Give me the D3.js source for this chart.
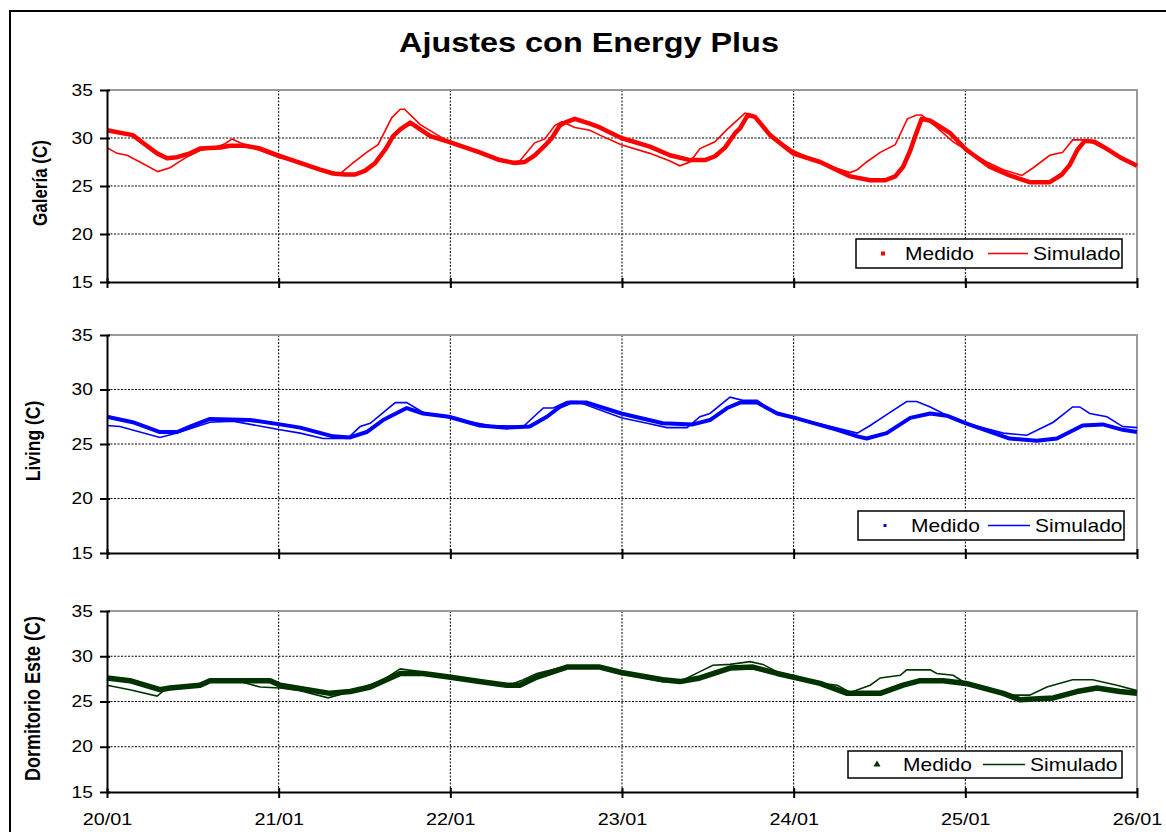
<!DOCTYPE html>
<html lang="es">
<head>
<meta charset="UTF-8">
<title>Ajustes con Energy Plus</title>
<script src="https://d3js.org/d3.v7.min.js"></script>
<style>
  html, body { margin: 0; padding: 0; background: #fff; overflow: hidden; }
  svg { display: block; font-family: Arial, "Liberation Sans", sans-serif; }
  .grid line { stroke: #000; stroke-width: 1; stroke-dasharray: 2, 1.5; }
  .frame { stroke: #999; stroke-width: 2; fill: none; }
  .axis path, .axis line { stroke: #000; stroke-width: 2; }
  .axis text { font-size: 16px; fill: #000; }
</style>
</head>
<body>
<svg id="chart" width="1166" height="832"></svg>
<script>
// --- data (hours from 20/01 00:00, temperature in C) ---
const dayLabels = ["20/01", "21/01", "22/01", "23/01", "24/01", "25/01", "26/01"];
const dayHours = [0, 24, 48, 72, 96, 120, 144];
const tempTicks = [15, 20, 25, 30, 35];
const gridTemps = [20, 25, 30];

const galeriaMedidoHora = [0, 3.6, 5.0, 7.0, 8.4, 9.8, 11.6, 13.0, 15.8, 17.2, 19.3, 21.4, 23.9, 27.0, 29.8, 31.6, 33.3, 34.7, 36.1, 37.5, 38.9, 40.0, 41.0, 42.4, 45.2, 47.8, 52.1, 54.9, 57.0, 58.4, 59.8, 61.2, 62.2, 63.3, 64.0, 65.4, 67.5, 68.9, 71.9, 75.9, 78.7, 81.5, 83.6, 85.0, 86.4, 87.8, 88.5, 89.6, 90.6, 92.7, 95.9, 99.7, 103.9, 106.7, 108.8, 110.2, 111.3, 112.3, 113.0, 113.9, 115.1, 117.9, 120.1, 123.4, 126.2, 129.0, 131.8, 133.5, 134.6, 135.7, 136.7, 138.1, 139.5, 141.6, 144.0];
const galeriaMedidoTemp = [30.8, 30.3, 29.5, 28.4, 27.9, 28.0, 28.4, 28.9, 29.0, 29.2, 29.2, 28.9, 28.2, 27.4, 26.7, 26.3, 26.2, 26.2, 26.6, 27.4, 28.8, 30.2, 30.9, 31.6, 30.2, 29.6, 28.5, 27.7, 27.4, 27.5, 28.2, 29.2, 30.0, 31.3, 31.6, 32.0, 31.5, 31.1, 30.0, 29.1, 28.2, 27.7, 27.7, 28.1, 29.0, 30.5, 31.0, 32.4, 32.2, 30.3, 28.4, 27.5, 26.0, 25.6, 25.6, 26.0, 27.0, 28.7, 30.2, 32.0, 31.8, 30.5, 28.8, 27.0, 26.1, 25.4, 25.4, 26.2, 27.2, 28.8, 29.7, 29.6, 29.0, 28.0, 27.1];

const galeriaSimHora = [0, 1.4, 2.8, 4.6, 7.1, 8.8, 10.9, 13.0, 15.1, 16.5, 17.5, 18.6, 21.4, 23.9, 27.0, 29.8, 32.6, 34.4, 36.3, 37.9, 39.8, 41.0, 41.6, 43.8, 47.8, 52.1, 56.3, 57.7, 59.8, 61.2, 62.6, 63.6, 65.4, 67.5, 68.9, 71.9, 75.9, 78.7, 80.1, 81.5, 82.9, 85.0, 86.7, 89.2, 90.2, 92.7, 95.9, 100.4, 103.9, 104.9, 106.2, 108.1, 110.2, 111.9, 113.2, 113.9, 116.0, 118.3, 120.7, 123.0, 125.3, 127.9, 129.5, 131.8, 133.6, 135.0, 137.0, 137.8, 144.0];
const galeriaSimTemp = [29.0, 28.4, 28.2, 27.5, 26.5, 26.9, 27.9, 28.7, 29.0, 29.4, 29.9, 29.5, 28.7, 28.0, 27.4, 26.7, 26.3, 27.4, 28.5, 29.3, 32.1, 33.0, 33.0, 31.4, 29.6, 28.5, 27.5, 27.6, 29.5, 29.9, 31.3, 31.7, 31.1, 30.8, 30.3, 29.3, 28.4, 27.6, 27.1, 27.5, 28.9, 29.6, 30.9, 32.6, 32.4, 30.3, 28.7, 27.2, 26.4, 26.7, 27.5, 28.5, 29.3, 32.0, 32.4, 32.4, 31.1, 29.6, 28.5, 27.5, 26.7, 26.1, 26.9, 28.2, 28.5, 29.8, 29.8, 29.5, 27.1];

const livingMedidoHora = [0, 3.6, 7.4, 9.8, 11.6, 14.4, 20.0, 24.2, 27.0, 31.6, 34.0, 36.3, 38.6, 41.9, 44.2, 47.8, 52.1, 55.9, 59.1, 61.5, 63.3, 64.7, 67.1, 71.9, 77.7, 81.9, 84.3, 86.7, 88.5, 90.9, 93.7, 96.2, 102.1, 104.9, 106.2, 109.0, 112.3, 115.1, 117.4, 120.1, 126.2, 130.0, 132.8, 136.4, 139.2, 142.0, 144.0];
const livingMedidoTemp = [27.5, 27.0, 26.1, 26.1, 26.6, 27.3, 27.2, 26.8, 26.5, 25.7, 25.6, 26.1, 27.2, 28.3, 27.8, 27.5, 26.7, 26.5, 26.6, 27.5, 28.4, 28.8, 28.8, 27.8, 26.9, 26.8, 27.2, 28.3, 28.8, 28.8, 27.8, 27.4, 26.3, 25.7, 25.5, 26.0, 27.4, 27.8, 27.6, 26.9, 25.5, 25.3, 25.5, 26.7, 26.8, 26.3, 26.1];

const livingSimHora = [0, 1.8, 7.4, 9.8, 14.4, 17.6, 24.2, 27.0, 30.2, 33.6, 35.4, 36.8, 40.3, 41.9, 44.2, 47.8, 53.5, 58.2, 61.0, 62.4, 64.3, 65.7, 71.9, 75.5, 78.3, 81.1, 82.9, 84.3, 87.1, 88.9, 90.9, 92.7, 96.2, 104.9, 106.7, 109.0, 111.8, 113.2, 115.1, 116.9, 120.1, 125.3, 128.6, 132.3, 135.0, 136.0, 137.4, 139.8, 142.0, 144.0];
const livingSimTemp = [26.7, 26.6, 25.6, 26.0, 27.0, 27.1, 26.3, 26.0, 25.5, 25.5, 26.6, 26.9, 28.8, 28.8, 27.9, 27.4, 26.7, 26.6, 28.3, 28.3, 28.9, 28.9, 27.4, 26.9, 26.5, 26.5, 27.5, 27.8, 29.3, 29.0, 29.0, 28.1, 27.4, 26.0, 26.7, 27.7, 28.9, 28.9, 28.4, 27.8, 26.9, 26.0, 25.8, 27.0, 28.4, 28.4, 27.8, 27.5, 26.6, 26.5];

const dormMedidoHora = [0, 3.2, 7.4, 8.8, 13.0, 14.4, 22.8, 24.2, 31.2, 34.0, 36.8, 41.0, 44.2, 47.8, 52.1, 55.9, 57.7, 60.1, 64.3, 68.9, 71.9, 77.7, 80.1, 82.9, 87.1, 90.3, 93.7, 95.9, 99.7, 103.5, 108.1, 111.3, 113.7, 116.9, 120.1, 125.3, 127.6, 132.3, 135.6, 138.4, 141.6, 144.0];
const dormMedidoTemp = [27.6, 27.3, 26.3, 26.5, 26.8, 27.3, 27.3, 26.8, 25.9, 26.1, 26.6, 28.1, 28.1, 27.7, 27.2, 26.8, 26.8, 27.7, 28.8, 28.8, 28.2, 27.4, 27.2, 27.6, 28.7, 28.8, 28.1, 27.7, 27.0, 25.9, 25.9, 26.8, 27.3, 27.3, 27.0, 25.9, 25.2, 25.4, 26.1, 26.5, 26.1, 25.9];

const dormSimHora = [0, 3.2, 7.0, 8.1, 14.4, 18.6, 21.4, 24.2, 27.0, 30.9, 33.3, 35.4, 38.2, 41.0, 43.8, 47.8, 52.1, 55.9, 58.2, 60.1, 63.7, 69.9, 71.9, 77.7, 80.1, 82.9, 84.7, 87.1, 89.9, 91.7, 94.1, 95.9, 99.7, 102.1, 103.9, 106.7, 108.1, 110.9, 111.8, 115.1, 116.0, 118.3, 120.1, 126.7, 129.0, 131.4, 135.0, 137.8, 141.2, 144.0];
const dormSimTemp = [26.8, 26.3, 25.6, 26.3, 27.2, 27.2, 26.6, 26.5, 26.2, 25.4, 25.9, 26.5, 27.2, 28.6, 28.3, 27.7, 27.2, 26.7, 27.4, 28.1, 28.8, 28.7, 28.1, 27.2, 27.2, 28.3, 29.0, 29.1, 29.4, 29.1, 28.1, 27.9, 27.0, 26.8, 26.0, 26.8, 27.6, 27.9, 28.5, 28.5, 28.1, 27.9, 27.0, 25.7, 25.7, 26.6, 27.4, 27.4, 26.8, 26.2];

// --- layout ---
const SX = 1.2; // horizontal text stretch of the original picture
const zip = (h, t) => h.map((d, i) => [d, t[i]]);

const panels = [
  { label: "Galería (C)", labelX: 47, labelSize: 17, top: 90, bottom: 282, color: "#FF0000",
    medido: zip(galeriaMedidoHora, galeriaMedidoTemp), sim: zip(galeriaSimHora, galeriaSimTemp),
    medidoWidth: 4.5, marker: "square", markerSize: 4,
    legend: { x: 856, y: 239, w: 266, h: 29, mx: 883, tx1: 905, lx1: 988, lx2: 1028, tx2: 1033 } },
  { label: "Living (C)", labelX: 40, labelSize: 17.5, top: 335, bottom: 553, color: "#0000FF",
    medido: zip(livingMedidoHora, livingMedidoTemp), sim: zip(livingSimHora, livingSimTemp),
    medidoWidth: 4, marker: "square", markerSize: 3,
    legend: { x: 858, y: 511, w: 266, h: 29, mx: 885, tx1: 911, lx1: 988, lx2: 1030, tx2: 1035 } },
  { label: "Dormitorio Este (C)", labelX: 40, labelSize: 18, top: 611, bottom: 792, color: "#003300",
    medido: zip(dormMedidoHora, dormMedidoTemp), sim: zip(dormSimHora, dormSimTemp),
    medidoWidth: 5.5, marker: "triangle", markerSize: 5,
    legend: { x: 848, y: 751, w: 274, h: 27, mx: 877, tx1: 903, lx1: 983, lx2: 1025, tx2: 1030 } }
];

const svg = d3.select("#chart");

// outer chart border (cropped on the right and bottom)
svg.append("rect")
  .attr("x", 10).attr("y", 11).attr("width", 1300).attr("height", 1000)
  .attr("fill", "none").attr("stroke", "#000").attr("stroke-width", 2);

svg.append("text")
  .attr("transform", `translate(589,52) scale(${SX},1)`)
  .attr("text-anchor", "middle")
  .style("font-size", "27px").style("font-weight", "bold")
  .text("Ajustes con Energy Plus");

const x = d3.scaleLinear().domain([0, 144]).range([107, 1137]);

panels.forEach((p, i) => {
  const y = d3.scaleLinear().domain([15, 35]).range([p.bottom, p.top]);
  const g = svg.append("g");
  const last = i === panels.length - 1;

  // grid
  const grid = g.append("g").attr("class", "grid");
  grid.selectAll(".h").data(gridTemps).join("line")
    .attr("x1", x(0)).attr("x2", x(144))
    .attr("y1", d => y(d)).attr("y2", d => y(d));
  grid.selectAll(".v").data(dayHours.slice(1, -1)).join("line")
    .attr("x1", d => x(d)).attr("x2", d => x(d))
    .attr("y1", y(35)).attr("y2", y(15));

  // top and right plot-area frame
  g.append("path").attr("class", "frame")
    .attr("d", `M${x(0)},${y(35)}H${x(144)}V${y(15)}`);

  // series
  const line = d3.line().x(d => x(d[0])).y(d => y(d[1]));
  g.append("path").datum(p.medido)
    .attr("d", line).attr("fill", "none")
    .attr("stroke", p.color).attr("stroke-width", p.medidoWidth)
    .attr("stroke-linejoin", "round");
  g.append("path").datum(p.sim)
    .attr("d", line).attr("fill", "none")
    .attr("stroke", p.color).attr("stroke-width", 1.6);

  // y axis
  const yAxis = g.append("g").attr("class", "axis")
    .attr("transform", `translate(${x(0)},0)`)
    .call(d3.axisLeft(y).tickValues(tempTicks).tickSizeInner(7).tickSizeOuter(0).tickPadding(4.7));
  yAxis.selectAll(".tick line").attr("x1", 3);
  yAxis.selectAll(".tick text").attr("transform", `scale(${SX},1)`);

  // x axis
  const xAxis = g.append("g").attr("class", "axis")
    .attr("transform", `translate(0,${y(15)})`)
    .call(d3.axisBottom(x).tickValues(dayHours).tickSizeInner(6).tickSizeOuter(0).tickPadding(15)
      .tickFormat((d, j) => last ? dayLabels[j] : ""));
  xAxis.selectAll(".tick line").attr("y1", -4);
  xAxis.selectAll(".tick text").attr("transform", `scale(${SX},1)`).style("font-size", "16.5px");

  // y label
  g.append("text")
    .attr("transform", `translate(${p.labelX},${(p.top + p.bottom) / 2 - 3}) rotate(-90) scale(1,${SX})`)
    .attr("text-anchor", "middle")
    .style("font-size", p.labelSize + "px").style("font-weight", "bold")
    .text(p.label);

  // legend
  const L = p.legend;
  const cy = L.y + L.h / 2;
  const lg = g.append("g");
  lg.append("rect").attr("x", L.x).attr("y", L.y).attr("width", L.w).attr("height", L.h)
    .attr("fill", "#fff");
  if (p.marker === "triangle") {
    lg.append("path")
      .attr("d", d3.symbol(d3.symbolTriangle, 22)())
      .attr("transform", `translate(${L.mx},${cy})`).attr("fill", p.color);
  } else {
    lg.append("rect")
      .attr("x", L.mx - p.markerSize / 2).attr("y", cy - p.markerSize / 2)
      .attr("width", p.markerSize).attr("height", p.markerSize).attr("fill", p.color);
  }
  lg.append("line").attr("x1", L.lx1).attr("x2", L.lx2).attr("y1", cy).attr("y2", cy)
    .attr("stroke", p.color).attr("stroke-width", 1.6);
  [["Medido", L.tx1], ["Simulado", L.tx2]].forEach(([t, tx]) => {
    lg.append("text")
      .attr("transform", `translate(${tx},${cy + 6}) scale(${SX},1)`)
      .style("font-size", "17.5px")
      .text(t);
  });
  lg.append("rect").attr("x", L.x).attr("y", L.y).attr("width", L.w).attr("height", L.h)
    .attr("fill", "none").attr("stroke", "#000").attr("stroke-width", 1.5);
});
</script>
</body>
</html>
